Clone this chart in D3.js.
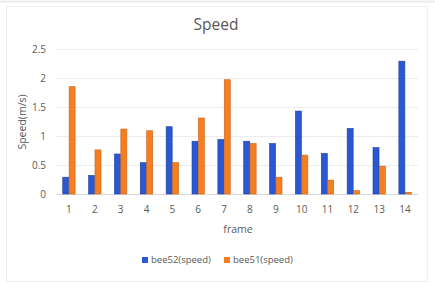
<!DOCTYPE html>
<html>
<head>
<meta charset="utf-8">
<script src="https://cdn.jsdelivr.net/npm/d3@7"></script>
<style>
  body { margin: 0; background: #fff; }
  text { font-family: "Open Sans", "Noto Sans", sans-serif; fill: #595959; }
</style>
</head>
<body>
<div id="chart"></div>
<script>
// frames on the x axis
const frames = ["1", "2", "3", "4", "5", "6", "7", "8", "9", "10", "11", "12", "13", "14"];
const seriesNames = ["bee52(speed)", "bee51(speed)"];
const bee52 = [0.29, 0.32, 0.69, 0.54, 1.16, 0.91, 0.94, 0.91, 0.87, 1.43, 0.70, 1.13, 0.80, 2.29];
const bee51 = [1.85, 0.76, 1.12, 1.09, 0.54, 1.31, 1.97, 0.87, 0.29, 0.67, 0.24, 0.06, 0.48, 0.03];
const yTicks = [0, 0.5, 1, 1.5, 2, 2.5];

const width = 435, height = 284;
const margin = {top: 49, right: 17, bottom: 90, left: 56};
const colors = ["#2a58d3", "#f57f20"];
const strokes = ["#1f3f9e", "#c8611a"];

const svg = d3.select("#chart").append("svg")
    .attr("width", width)
    .attr("height", height);

// faint frame around the chart
svg.append("line")
    .attr("x1", 0).attr("x2", width).attr("y1", 1.5).attr("y2", 1.5)
    .attr("stroke", "#ececec").attr("stroke-width", 2);
svg.append("rect")
    .attr("x", 6.5).attr("y", 6.5).attr("width", 421).attr("height", 275)
    .attr("fill", "none").attr("stroke", "#efefef");

const x = d3.scaleBand()
    .domain(frames)
    .range([margin.left, width - margin.right]);

const x1 = d3.scaleBand()
    .domain(seriesNames)
    .range([0, x.bandwidth()])
    .paddingInner(0.06)
    .paddingOuter(1.05);

const y = d3.scaleLinear()
    .domain([0, 2.5])
    .range([height - margin.bottom, margin.top]);

// gridlines
svg.append("g")
    .selectAll("line")
    .data(yTicks)
    .join("line")
    .attr("x1", margin.left)
    .attr("x2", width - margin.right)
    .attr("y1", d => Math.round(y(d)) + 0.5)
    .attr("y2", d => Math.round(y(d)) + 0.5)
    .attr("stroke", d => d === 0 ? "#d9d9d9" : "#ececec");

// y tick labels
svg.append("g")
    .selectAll("text")
    .data(yTicks)
    .join("text")
    .attr("x", 46)
    .attr("y", d => y(d) + 3.5)
    .attr("text-anchor", "end")
    .attr("font-size", 10)
    .text(d => d);

// bars
const data = frames.map((f, i) => ({frame: f, values: [bee52[i], bee51[i]]}));
const groups = svg.append("g")
    .selectAll("g")
    .data(data)
    .join("g")
    .attr("transform", d => `translate(${x(d.frame)},0)`);

groups.selectAll("rect")
    .data(d => d.values.map((v, k) => ({name: seriesNames[k], value: v, k: k})))
    .join("rect")
    .attr("x", d => x1(d.name))
    .attr("width", x1.bandwidth())
    .attr("y", d => y(d.value))
    .attr("height", d => y(0) - y(d.value))
    .attr("fill", d => colors[d.k])
    .attr("stroke", d => strokes[d.k])
    .attr("stroke-width", 0.6);

// x tick labels
svg.append("g")
    .selectAll("text")
    .data(frames)
    .join("text")
    .attr("x", d => x(d) + x.bandwidth() / 2)
    .attr("y", 213)
    .attr("text-anchor", "middle")
    .attr("font-size", 10)
    .text(d => d);

// title
svg.append("text")
    .attr("x", 216)
    .attr("y", 30)
    .attr("text-anchor", "middle")
    .attr("font-size", 15.5)
    .text("Speed");

// axis titles
svg.append("text")
    .attr("x", 238)
    .attr("y", 233)
    .attr("text-anchor", "middle")
    .attr("font-size", 10.5)
    .text("frame");

svg.append("text")
    .attr("transform", "translate(26,122) rotate(-90)")
    .attr("text-anchor", "middle")
    .attr("font-size", 10.5)
    .text("Speed(m/s)");

// legend
const legend = svg.append("g")
    .selectAll("g")
    .data(seriesNames)
    .join("g")
    .attr("transform", (d, i) => `translate(${142 + i * 82},263)`);

legend.append("rect")
    .attr("x", 0).attr("y", -6)
    .attr("width", 6).attr("height", 6)
    .attr("fill", (d, i) => colors[i]);

legend.append("text")
    .attr("x", 9)
    .attr("y", 0)
    .attr("font-size", 9.5)
    .text(d => d);
</script>
</body>
</html>
